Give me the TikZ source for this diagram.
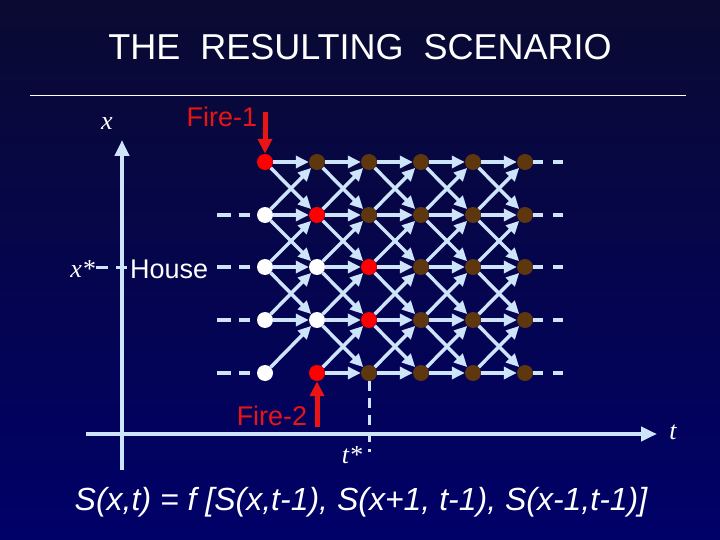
\documentclass[tikz,border=0pt]{standalone}
\usepackage{fontspec}
\setmainfont{Liberation Serif}
\setsansfont{Liberation Sans}
\usetikzlibrary{arrows.meta,calc}
\definecolor{edgeblue}{RGB}{205,228,250}
\definecolor{brownnode}{RGB}{95,55,15}
\definecolor{bgtop}{RGB}{10,10,50}
\definecolor{bgbot}{RGB}{0,0,105}
\definecolor{firered}{RGB}{235,20,20}
\begin{document}
\begin{tikzpicture}[x=1pt,y=-1pt,
  dot/.style={circle,minimum size=16pt,inner sep=0pt},
  wdot/.style={dot,fill=white},
  rdot/.style={dot,fill=red},
  bdot/.style={dot,fill=brownnode},
  edge/.style={draw=edgeblue,line width=3.5pt,-{Triangle[length=13pt,width=12pt]},shorten >=0pt},
  axis/.style={draw=edgeblue,line width=4pt,-{Triangle[length=16pt,width=14pt]}},
  dashl/.style={draw=edgeblue,line width=3.5pt,dash pattern=on 14pt off 8pt},
  dashx/.style={draw=edgeblue,line width=3pt,dash pattern=on 12pt off 8pt},
  dashr/.style={draw=edgeblue,line width=3.5pt,dash pattern=on 10pt off 10pt},
  dasht/.style={draw=edgeblue,line width=3pt,dash pattern=on 10pt off 7pt},
  fire/.style={draw=firered,line width=5pt,-{Triangle[length=15pt,width=14pt]}},
  lab/.style={font=\fontsize{26}{30}\selectfont\itshape,text=white,inner sep=0pt},
  sans/.style={font=\fontsize{27}{30}\selectfont\sffamily,inner sep=0pt}
]
\shade[top color=bgtop,bottom color=bgbot] (0,540) rectangle (720,0);
\useasboundingbox (0,0) rectangle (720,540);

% title
\node[font=\fontsize{36}{40}\selectfont\sffamily,text=white] (title) at (360,47) {THE\ \ RESULTING\ \ SCENARIO};
\coordinate (sepl) at (30,96);
\coordinate (sepr) at (686,96);
\draw[white,line width=1pt] (sepl) -- (sepr);

% axes
\coordinate (vb) at (122,470);
\coordinate (vt) at (122,140);
\coordinate (hl) at (86,434);
\coordinate (hr) at (657,434);
\draw[axis] (vb) -- (vt);
\draw[axis] (hl) -- (hr);
\node[lab] (xl) at (107,124) {x};
\node[lab] (tl) at (673,432) {t};

% grid positions
\def\colx{{265,317,369,421,473,525}}
\def\rowy{{162,215,267,320,373}}
\foreach \c in {0,...,5}{
  \foreach \r in {0,...,4}{
    \pgfmathsetmacro\xx{\colx[\c]}
    \pgfmathsetmacro\yy{\rowy[\r]}
    \coordinate (p-\c-\r) at (\xx,\yy);
  }
}
% grid nodes
\node[rdot] (n-0-0) at (p-0-0) {};
\foreach \r in {1,...,4}{\node[wdot] (n-0-\r) at (p-0-\r) {};}
\node[bdot] (n-1-0) at (p-1-0) {};
\node[rdot] (n-1-1) at (p-1-1) {};
\node[wdot] (n-1-2) at (p-1-2) {};
\node[wdot] (n-1-3) at (p-1-3) {};
\node[rdot] (n-1-4) at (p-1-4) {};
\node[bdot] (n-2-0) at (p-2-0) {};
\node[bdot] (n-2-1) at (p-2-1) {};
\node[rdot] (n-2-2) at (p-2-2) {};
\node[rdot] (n-2-3) at (p-2-3) {};
\node[bdot] (n-2-4) at (p-2-4) {};
\foreach \c in {3,4,5}{\foreach \r in {0,...,4}{\node[bdot] (n-\c-\r) at (p-\c-\r) {};}}

% edges
\foreach \c in {0,...,4}{
  \pgfmathtruncatemacro\cn{\c+1}
  \foreach \r in {0,...,4}{
    \foreach \d in {-1,0,1}{
      \pgfmathtruncatemacro\rn{\r+\d}
      \pgfmathtruncatemacro\ok{(\rn>=0)&&(\rn<=4)&&!((\c==0)&&(\rn==4))}
      \ifnum\ok=1
        \draw[edge] (n-\c-\r) -- (n-\cn-\rn);
      \fi
    }
  }
}

% left dashes
\foreach \r in {1,...,4}{
  \coordinate (dl-\r) at (217,{\rowy[\r]});
  \coordinate (dr-\r) at (250,{\rowy[\r]});
  \draw[dashl] (dl-\r) -- (dr-\r);
}
% right dashes
\foreach \r in {0,...,4}{
  \coordinate (el-\r) at (533,{\rowy[\r]});
  \coordinate (er-\r) at (566,{\rowy[\r]});
  \draw[dashr] (el-\r) -- (er-\r);
}

% house and x*
\node[lab,anchor=east] (xs) at (95,269) {x*};
\node[sans,text=white,anchor=west] (house) at (130,269) {House};
\coordinate (xsl) at (96,267);
\coordinate (xsr) at (127,267);
\draw[dashx] (xsl) -- (xsr);

% t* line
\coordinate (tsb) at (369,452);
\draw[dasht] (n-2-4.south) -- (tsb);
\node[lab] (ts) at (352,455) {t*};

% fires
\node[sans,text=firered] (f1) at (222,117) {Fire-1};
\coordinate (f1s) at (265,112);
\draw[fire] (f1s) -- (n-0-0.north);
\node[sans,text=firered] (f2) at (272,416) {Fire-2};
\coordinate (f2s) at (317,427);
\draw[fire] (f2s) -- (n-1-4.south);

% formula
\node[font=\fontsize{32}{36}\selectfont\sffamily\itshape,text=white] (formula) at (361,502)
  {S(x,t) = f [S(x,t-1), S(x+1, t-1), S(x-1,t-1)]};
\end{tikzpicture}
\end{document}
